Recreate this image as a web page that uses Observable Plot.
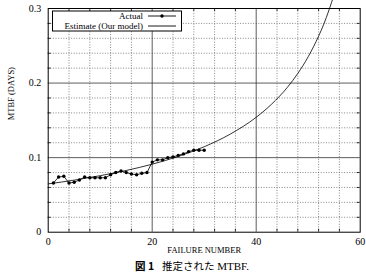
<!DOCTYPE html>
<html>
<head>
<meta charset="utf-8">
<script src="https://cdn.jsdelivr.net/npm/d3@7"></script>
<script src="https://cdn.jsdelivr.net/npm/@observablehq/plot@0.6"></script>
<style>
  html, body { margin: 0; padding: 0; background: #fff; }
  #wrap { position: relative; width: 366px; height: 280px; }
  #legend { position: absolute; left: 0; top: 0; pointer-events: none; }
  #caption { position: absolute; left: 0; top: 258px; width: 366px; text-align: center; padding-left: 18px; box-sizing: border-box;
    font-size: 10.5px; color: #000; font-family: "Liberation Serif", serif; }
  #caption .jp { font-family: "Noto Sans CJK JP", sans-serif; }
  #caption .fig { font-family: "Noto Sans CJK JP", sans-serif; font-weight: bold; }
  #caption .en { font-family: "Liberation Serif", serif; font-size: 11px; }
</style>
</head>
<body>
<div id="wrap">
  <div id="chart"></div>
  <div id="caption"><span class="fig">図 1</span>&nbsp;&nbsp;&nbsp;<span class="jp">推定された</span> <span class="en">MTBF.</span></div>
</div>
<script>
// ---- data ----
const failureNumber = [1,2,3,4,5,6,7,8,9,10,11,12,13,14,15,16,17,18,19,20,21,22,23,24,25,26,27,28,29,30];
const actualMTBF = [0.066,0.074,0.075,0.066,0.067,0.070,0.074,0.073,0.073,0.073,0.073,0.077,0.080,0.082,0.080,0.078,0.077,0.079,0.080,0.094,0.097,0.097,0.100,0.101,0.103,0.105,0.108,0.110,0.110,0.110];
const estimateX = [0,5,10,15,20,25,30,35,40,43,46,48,50,52,53,54,55];
const estimateMTBF = [0.0648,0.0698,0.0758,0.0828,0.0912,0.1016,0.1146,0.1315,0.1541,0.172,0.1943,0.2129,0.2353,0.2629,0.279,0.298,0.319];
const xTickLabels = [0,20,40,60];
const yTickLabels = [0,0.1,0.2,0.3];
const xMinor = [4,8,12,16,24,28,32,36,44,48,52,56];
const yMinor = [0.02,0.04,0.06,0.08,0.12,0.14,0.16,0.18,0.22,0.24,0.26,0.28];
const xMajorInner = [20,40];
const yMajorInner = [0.1,0.2];
const xLabel = "FAILURE NUMBER";
const yLabel = "MTBF (DAYS)";
const legendLabels = ["Actual", "Estimate (Our model)"];

const actual = failureNumber.map((x,i) => ({x, y: actualMTBF[i]}));
const estimate = estimateX.map((x,i) => ({x, y: estimateMTBF[i]}));

const W = 366, H = 256;
const mL = 47.7, mR = 6.3, mT = 8, mB = 24.3;
const innerW = W - mL - mR, innerH = H - mT - mB;
const dotted = {stroke: "#555", strokeWidth: 0.7, strokeDasharray: "1,1.6"};

const plot = Plot.plot({
  width: W, height: H,
  marginLeft: mL, marginRight: mR, marginTop: mT, marginBottom: mB,
  style: {fontFamily: "Liberation Serif, serif", fontSize: "10px", color: "#000", background: "#fff", overflow: "hidden"},
  x: {domain: [0,60]},
  y: {domain: [0,0.3]},
  marks: [
    Plot.ruleX(xMinor, {x: d => d, ...dotted}),
    Plot.ruleY(yMinor, {y: d => d, ...dotted}),
    Plot.ruleX(xMajorInner, {x: d => d, stroke: "#333", strokeWidth: 0.8}),
    Plot.ruleY(yMajorInner, {y: d => d, stroke: "#333", strokeWidth: 0.8}),
    // inner tick marks
    Plot.ruleX(xMinor, {x: d => d, stroke: "#000", strokeWidth: 0.8, insetTop: innerH - 3}),
    Plot.ruleX(xMinor, {x: d => d, stroke: "#000", strokeWidth: 0.8, insetBottom: innerH - 3}),
    Plot.ruleY(yMinor, {y: d => d, stroke: "#000", strokeWidth: 0.8, insetRight: innerW - 3}),
    Plot.ruleY(yMinor, {y: d => d, stroke: "#000", strokeWidth: 0.8, insetLeft: innerW - 3}),
    Plot.frame({stroke: "#000", strokeWidth: 1}),
    Plot.axisX({ticks: xTickLabels, tickSize: 0, tickPadding: 6, tickFormat: d => String(d), label: null, fontSize: 10}),
    Plot.axisY({ticks: yTickLabels, tickSize: 0, tickPadding: 7, tickFormat: d => d === 0 ? "0" : d.toFixed(1), label: null, fontSize: 10}),
    Plot.text([xLabel], {text: d => d, frameAnchor: "bottom", dy: 21, fontSize: 8.5}),
    Plot.text([yLabel], {text: d => d, frameAnchor: "left", dx: -37, rotate: -90, fontSize: 8.5}),
    Plot.line(estimate, {x: "x", y: "y", stroke: "#000", strokeWidth: 0.8, curve: "monotone-x"}),
    Plot.line(actual, {x: "x", y: "y", stroke: "#000", strokeWidth: 0.8}),
    Plot.dot(actual, {x: "x", y: "y", r: 1.7, fill: "#000", stroke: "none"})
  ]
});
document.getElementById("chart").appendChild(plot);

// legend overlay (inside the plot frame, top-left)
const svg = d3.select("#wrap").append("svg").attr("id","legend").attr("width", W).attr("height", H);
svg.append("rect").attr("x", 52.5).attr("y", 11).attr("width", 129).attr("height", 20)
  .attr("fill", "#fff").attr("stroke", "#000").attr("stroke-width", 1);
const g = svg.append("g").attr("font-family", "Liberation Serif, serif").attr("font-size", 9).attr("fill", "#000");
legendLabels.forEach((t, i) => {
  const cy = 16 + i * 10;
  g.append("text").attr("x", 143).attr("y", cy).attr("text-anchor", "end").attr("dominant-baseline", "central").text(t);
  svg.append("line").attr("x1", 148).attr("x2", 176).attr("y1", cy).attr("y2", cy).attr("stroke", "#000").attr("stroke-width", 0.9);
  if (i === 0) svg.append("circle").attr("cx", 162).attr("cy", cy).attr("r", 1.7).attr("fill", "#000");
});
</script>
</body>
</html>
